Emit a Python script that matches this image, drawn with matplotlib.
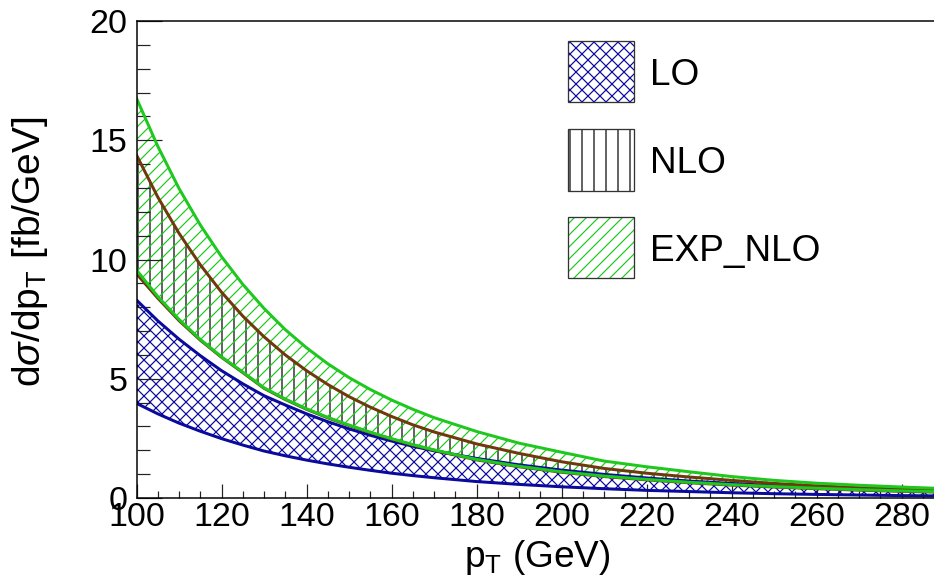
import matplotlib
matplotlib.use("Agg")
import matplotlib.pyplot as plt
from matplotlib.patches import Rectangle
from matplotlib.ticker import MultipleLocator

plt.rcParams['font.family'] = ['Liberation Sans', 'DejaVu Sans']
plt.rcParams['mathtext.fontset'] = 'custom'
plt.rcParams['mathtext.rm'] = 'Liberation Sans'
plt.rcParams['mathtext.it'] = 'Liberation Sans:italic'
plt.rcParams['hatch.linewidth'] = 1.2

# ---------------- data ----------------
pt = [100, 105, 110, 115, 120, 125, 130, 135, 140, 145, 150, 155, 160, 165,
      170, 180, 190, 200, 210, 220, 230, 240, 250, 260, 270, 280, 290]

lo_low = [3.97, 3.53, 3.14, 2.80, 2.49, 2.22, 1.97, 1.77, 1.59, 1.43, 1.29, 1.16,
          1.04, 0.94, 0.85, 0.69, 0.57, 0.47, 0.39, 0.32, 0.27, 0.22, 0.18, 0.15,
          0.125, 0.10, 0.085]
lo_high = [8.30, 7.43, 6.66, 5.97, 5.34, 4.79, 4.29, 3.90, 3.53, 3.20, 2.90, 2.63,
           2.39, 2.17, 1.98, 1.66, 1.39, 1.17, 0.99, 0.84, 0.71, 0.61, 0.52, 0.45,
           0.39, 0.34, 0.30]

nlo_low = [9.40, 8.38, 7.44, 6.62, 5.90, 5.26, 4.60, 4.13, 3.72, 3.36, 3.04, 2.74,
           2.47, 2.22, 2.00, 1.60, 1.31, 1.08, 0.90, 0.76, 0.64, 0.54, 0.46, 0.39,
           0.33, 0.28, 0.24]
nlo_high = [14.38, 12.62, 11.10, 9.78, 8.63, 7.63, 6.76, 6.00, 5.34, 4.76, 4.25,
            3.81, 3.42, 3.07, 2.77, 2.27, 1.87, 1.52, 1.24, 1.04, 0.88, 0.74, 0.61,
            0.51, 0.43, 0.37, 0.32]

exp_low = [9.56, 8.45, 7.49, 6.65, 5.92, 5.28, 4.62, 4.15, 3.74, 3.38, 3.06, 2.76,
           2.49, 2.24, 2.02, 1.62, 1.33, 1.10, 0.92, 0.78, 0.66, 0.56, 0.48, 0.41,
           0.35, 0.30, 0.26]
exp_high = [16.76, 14.75, 12.98, 11.45, 10.12, 8.96, 7.95, 7.06, 6.30, 5.63, 5.05,
            4.55, 4.11, 3.72, 3.37, 2.79, 2.30, 1.92, 1.55, 1.31, 1.10, 0.90, 0.74,
            0.62, 0.535, 0.46, 0.395]

labels = ["LO", "NLO", "EXP_NLO"]
x_ticks = [100, 120, 140, 160, 180, 200, 220, 240, 260, 280]
y_ticks = [0, 5, 10, 15, 20]

# ---------------- figure ----------------
W, H, DPI = 934, 579, 72
fig = plt.figure(figsize=(W / DPI, H / DPI), dpi=DPI)

def fx(px):
    return px / W

def fy(py):
    return 1 - py / H

ax_left, ax_right, ax_top, ax_bot = 136.5, 934, 21, 498
ax = fig.add_axes([fx(ax_left), fy(ax_bot), fx(ax_right - ax_left), (ax_bot - ax_top) / H])

blue = '#0a0a9c'
green = '#1ec81e'
brown = '#70380c'
black = '#000000'

# LO band
ax.fill_between(pt, lo_low, lo_high, facecolor='none', edgecolor=blue, hatch='xx', linewidth=0)
ax.plot(pt, lo_low, color=blue, lw=3)
ax.plot(pt, lo_high, color=blue, lw=3)

# NLO band
ax.fill_between(pt, nlo_low, nlo_high, facecolor='none', edgecolor=black, hatch='|', linewidth=0)
ax.plot(pt, nlo_low, color=brown, lw=3)
ax.plot(pt, nlo_high, color=brown, lw=3)

# EXP_NLO band
ax.fill_between(pt, exp_low, exp_high, facecolor='none', edgecolor=green, hatch='//', linewidth=0)
ax.plot(pt, exp_low, color=green, lw=3)
ax.plot(pt, exp_high, color=green, lw=3)

ax.set_xlim(100, 100 + (ax_right - ax_left) / 4.25)
ax.set_ylim(0, 20)
ax.set_xticks(x_ticks)
ax.set_yticks(y_ticks)
ax.xaxis.set_minor_locator(MultipleLocator(5))
ax.yaxis.set_minor_locator(MultipleLocator(1))
ax.tick_params(axis='both', which='both', direction='in', top=False, right=False,
               labelsize=34, width=1.2, color='#222222')
ax.tick_params(axis='x', which='major', length=14, pad=4)
ax.tick_params(axis='x', which='minor', length=7)
ax.tick_params(axis='y', which='major', length=25, pad=9)
ax.tick_params(axis='y', which='minor', length=12.5)
ax.spines['right'].set_visible(False)
for s in ['left', 'bottom', 'top']:
    ax.spines[s].set_linewidth(1.5)

# axis titles
fig.text(fx(537), fy(567), r'p$_{\mathrm{T}}$ (GeV)', fontsize=37, ha='center', va='baseline')
fig.text(fx(30), fy(252), r'd$\sigma$/dp$_{\mathrm{T}}$ [fb/GeV]', fontsize=39,
         rotation=90, ha='center', va='center')

# legend (manual, ROOT style)
boxes = [(40.7, 102.3, blue, 'xx'), (128.7, 190.7, black, '|'), (217.3, 278.3, green, '//')]
for (ytop, ybot, col, hat), lab in zip(boxes, labels):
    x0, x1 = 568.3, 634.3
    fig.patches.append(Rectangle((fx(x0), fy(ybot)), fx(x1 - x0), (ybot - ytop) / H,
                                 transform=fig.transFigure, facecolor='white',
                                 edgecolor=col, hatch=hat, linewidth=0, zorder=5))
    fig.patches.append(Rectangle((fx(x0), fy(ybot)), fx(x1 - x0), (ybot - ytop) / H,
                                 transform=fig.transFigure, facecolor='none',
                                 edgecolor='#333333', linewidth=1.3, zorder=6))
    fig.text(fx(650), fy((ytop + ybot) / 2), lab, fontsize=37, ha='left', va='center_baseline')

fig.savefig('out.png', dpi=DPI)
